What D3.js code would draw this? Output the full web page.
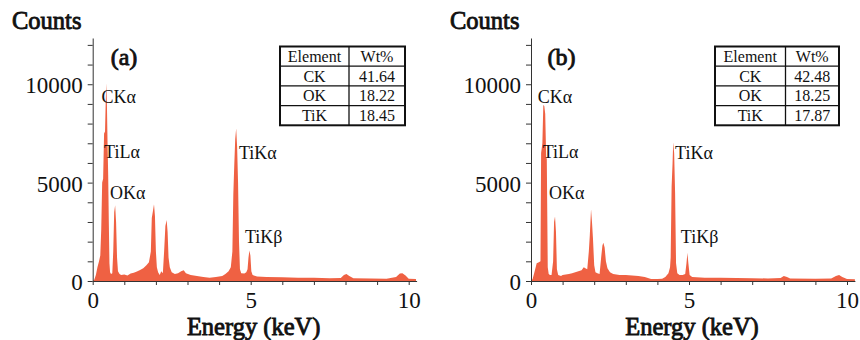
<!DOCTYPE html>
<html>
<head>
<meta charset="utf-8">
<script src="https://cdn.jsdelivr.net/npm/d3@7"></script>
<style>
  body { margin: 0; background: #fff; }
  svg { display: block; font-family: "Liberation Serif", "DejaVu Serif", serif; }
</style>
</head>
<body>
<svg id="chart" width="860" height="340"></svg>
<script>
// EDS spectra, energy in keV and counts
const energyA = [0, 0.05, 0.1, 0.15, 0.2, 0.24, 0.27, 0.3, 0.33, 0.36, 0.39, 0.41, 0.43, 0.45, 0.47, 0.49, 0.51, 0.53, 0.55, 0.58,
  0.62, 0.65, 0.68, 0.71, 0.74, 0.77, 0.8, 0.85, 0.9, 1.0, 1.1, 1.2, 1.3, 1.4, 1.5, 1.6, 1.7, 1.78, 1.84, 1.87,
  1.9, 1.94, 1.97, 2.0, 2.03, 2.07, 2.12, 2.17, 2.22, 2.26, 2.3, 2.34, 2.37, 2.4, 2.44, 2.5, 2.6, 2.7, 2.8, 2.88,
  2.95, 3.1, 3.3, 3.5, 3.7, 3.9, 4.1, 4.2, 4.3, 4.37, 4.42, 4.45, 4.48, 4.51, 4.54, 4.57, 4.6, 4.63, 4.66, 4.7,
  4.8, 4.86, 4.9, 4.93, 4.96, 4.99, 5.02, 5.06, 5.2, 5.5, 6.0, 6.5, 7.0, 7.5, 7.85, 7.95, 8.03, 8.12, 8.25, 8.8,
  9.3, 9.6, 9.72, 9.8, 9.9, 10.0, 10.23];
const countsA = [0, 60, 300, 700, 1000, 1300, 2600, 5000, 5200, 7500, 7600, 9000, 10050, 9000, 7000, 5400, 3000, 900, 450, 350,
  400, 1500, 3500, 3850, 3000, 1200, 500, 350, 300, 330, 280, 380, 420, 480, 560, 650, 800, 950, 1500, 3200,
  3500, 3900, 3300, 1500, 700, 450, 300, 500, 400, 1500, 2800, 3100, 2500, 1200, 700, 450, 350, 400, 500, 550,
  400, 300, 250, 200, 170, 200, 250, 350, 500, 700, 1500, 4400, 5900, 7200, 7750, 6850, 5000, 2000, 600, 400,
  380, 450, 600, 1200, 1550, 1300, 500, 300, 230, 200, 190, 170, 160, 140, 150, 300, 350, 250, 140, 130,
  120, 200, 380, 400, 280, 120, 100];

const energyB = [0, 0.05, 0.1, 0.18, 0.25, 0.3, 0.32, 0.36, 0.39, 0.42, 0.45, 0.48, 0.5, 0.53, 0.56, 0.6, 0.65, 0.7, 0.73, 0.76,
  0.79, 0.82, 0.86, 0.95, 1.0, 1.1, 1.2, 1.3, 1.4, 1.5, 1.6, 1.67, 1.72, 1.78, 1.83, 1.86, 1.9, 1.93, 1.96, 2.0,
  2.04, 2.1, 2.17, 2.22, 2.26, 2.29, 2.33, 2.37, 2.42, 2.5, 2.6, 2.8, 3.0, 3.2, 3.4, 3.6, 3.8, 4.0, 4.15, 4.25,
  4.35, 4.4, 4.42, 4.45, 4.48, 4.5, 4.53, 4.56, 4.59, 4.63, 4.7, 4.8, 4.88, 4.92, 4.95, 4.98, 5.02, 5.1, 5.5, 6.0,
  6.5, 7.0, 7.5, 7.9, 8.0, 8.1, 8.2, 9.0, 9.5, 9.65, 9.75, 9.85, 10.0, 10.25];
const countsB = [0, 100, 400, 900, 950, 1000, 6500, 7000, 8950, 8900, 8500, 6300, 6200, 700, 350, 300, 300, 1000, 3000, 3280,
  2500, 600, 300, 250, 300, 330, 350, 400, 450, 500, 550, 700, 650, 600, 1500, 2300, 3650, 3000, 2200, 800,
  450, 400, 350, 1200, 1800, 1950, 1700, 1000, 650, 450, 350, 300, 300, 280, 250, 200, 100, 100, 120, 200,
  400, 700, 1200, 4800, 6000, 7050, 6500, 4500, 900, 400, 300, 300, 350, 900, 1430, 900, 300, 200, 170, 160,
  150, 140, 130, 150, 250, 200, 130, 120, 130, 250, 300, 200, 100, 90];

// peak labels, anchored at (energy, counts) of the text baseline start
const peakNames = ["CKα", "TiLα", "OKα", "TiKα", "TiKβ"];
const peakLabelEnergyA = [0.28, 0.36, 0.55, 4.63, 4.82];
const peakLabelCountsA = [9065, 6238, 4153, 6187, 1917];
const peakLabelEnergyB = [0.21, 0.37, 0.57, 4.56, 4.74];
const peakLabelCountsB = [9065, 6238, 4153, 6187, 1930];

// composition tables
const elements = ["CK", "OK", "TiK"];
const wtA = ["41.64", "18.22", "18.45"];
const wtB = ["42.48", "18.25", "17.87"];

const yTicks = d3.range(0, 12001, 1000);
const xTicks = d3.range(0, 11, 1);

const fill = "#ef6143";
const ink = "#111";

const panels = [
  { tag: "(a)", x0: 92.7, countsX: 12, tagX: 124, table: { x: 280, split: 349, right: 405 },
    energy: energyA, counts: countsA, labE: peakLabelEnergyA, labC: peakLabelCountsA, wt: wtA },
  { tag: "(b)", x0: 531, countsX: 450, tagX: 561.5, table: { x: 715, split: 785.5, right: 839 },
    energy: energyB, counts: countsB, labE: peakLabelEnergyB, labC: peakLabelCountsB, wt: wtB },
];

const svg = d3.select("#chart");

// no bold serif face here, so thicken the regular one with a stroke
function boldText(sel, size) {
  return sel.attr("font-size", size).attr("fill", ink)
    .attr("stroke", ink).attr("stroke-width", 0.85).attr("paint-order", "stroke");
}

function drawPanel(p) {
  const g = svg.append("g");
  const x = d3.scaleLinear().domain([0, 10.25]).range([p.x0, p.x0 + 10.25 * 31.6]);
  const y = d3.scaleLinear().domain([0, 12350]).range([281, 38]);

  const pts = p.energy.map((e, i) => ({ e: e, c: p.counts[i] }));
  const area = d3.area()
    .x((d) => x(d.e))
    .y0(y(0))
    .y1((d) => y(d.c));
  g.append("path").datum(pts).attr("fill", fill).attr("d", area);

  // axes
  const ya = g.append("g")
    .attr("transform", "translate(" + p.x0 + ",0)")
    .call(d3.axisLeft(y).tickValues(yTicks).tickSize(5).tickSizeOuter(0).tickPadding(5)
      .tickFormat((d) => (d % 5000 === 0 ? d : "")));
  const xa = g.append("g")
    .attr("transform", "translate(0," + y(0) + ")")
    .call(d3.axisBottom(x).tickValues(xTicks).tickSize(4).tickSizeOuter(0).tickPadding(7)
      .tickFormat((d) => (d % 5 === 0 ? d : "")));
  [ya, xa].forEach((a) => {
    a.attr("font-family", null).attr("font-size", null);
    a.selectAll("path, line").attr("stroke", "#333");
    a.selectAll("text").attr("fill", ink).style("font-size", "23px");
  });
  ya.selectAll("text").attr("dy", "0.38em");

  boldText(g.append("text").attr("x", p.countsX).attr("y", 29), 24.5).text("Counts");
  boldText(g.append("text").attr("x", x(5) + 3).attr("y", 335).attr("text-anchor", "middle"), 24.5)
    .text("Energy (keV)");
  boldText(g.append("text").attr("x", p.tagX).attr("y", 65).attr("text-anchor", "middle"), 24)
    .text(p.tag);

  g.selectAll(".peak").data(peakNames).join("text")
    .attr("class", "peak")
    .attr("x", (d, i) => x(p.labE[i]))
    .attr("y", (d, i) => y(p.labC[i]))
    .attr("font-size", 18).attr("fill", ink)
    .text((d) => d);

  drawTable(g, p.table, p.wt);
}

function drawTable(g, t, wt) {
  const top = 46.5, rowH = 19.7;
  const rows = [["Element", "Wt%"]].concat(elements.map((e, i) => [e, wt[i]]));
  const bottom = top + rowH * rows.length;
  const tg = g.append("g");
  tg.append("rect").attr("x", t.x).attr("y", top).attr("width", t.right - t.x).attr("height", bottom - top)
    .attr("fill", "#fff").attr("stroke", "#111").attr("stroke-width", 2);
  tg.append("line").attr("x1", t.split).attr("x2", t.split).attr("y1", top).attr("y2", bottom)
    .attr("stroke", "#111").attr("stroke-width", 1.3);
  d3.range(1, rows.length).forEach((r) => {
    tg.append("line").attr("x1", t.x).attr("x2", t.right)
      .attr("y1", top + r * rowH).attr("y2", top + r * rowH)
      .attr("stroke", "#111").attr("stroke-width", 1.3);
  });
  rows.forEach((row, r) => {
    const cy = top + r * rowH + rowH / 2 + 5.5;
    tg.append("text").attr("x", (t.x + t.split) / 2).attr("y", cy).attr("text-anchor", "middle")
      .attr("font-size", 16).attr("fill", ink).text(row[0]);
    tg.append("text").attr("x", (t.split + t.right) / 2).attr("y", cy).attr("text-anchor", "middle")
      .attr("font-size", 16).attr("fill", ink).text(row[1]);
  });
}

panels.forEach(drawPanel);
</script>
</body>
</html>
